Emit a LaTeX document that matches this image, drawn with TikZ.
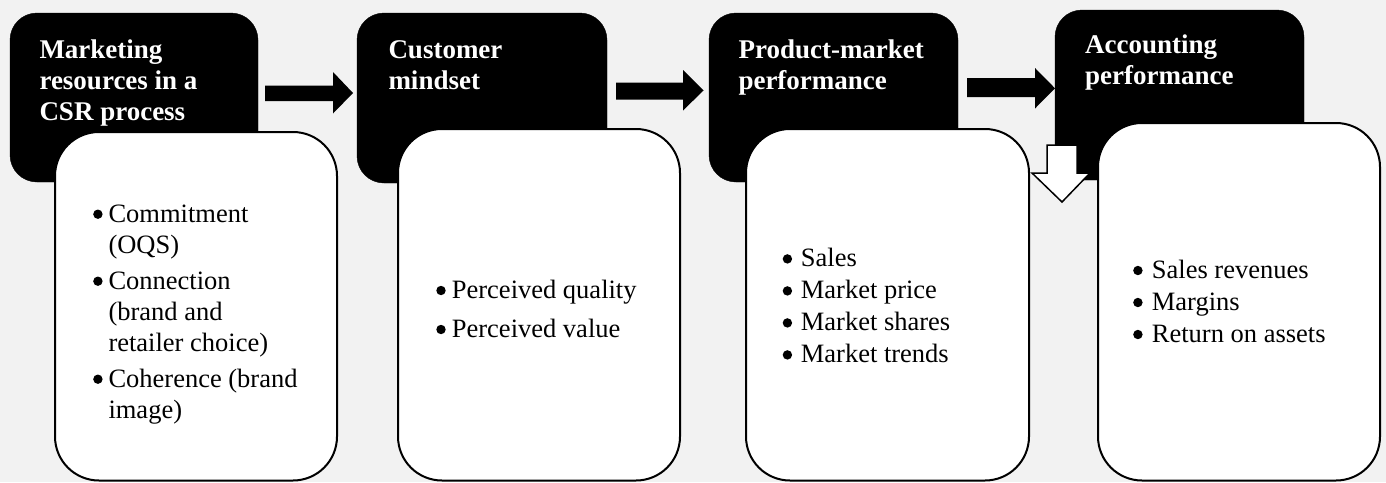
\documentclass[tikz,border=0pt]{standalone}
\usepackage{fontspec}
\setmainfont{Liberation Serif}
\usetikzlibrary{calc}
\definecolor{bggray}{HTML}{F2F2F2}
\newcommand\bul{\makebox[10pt][c]{\tikz[baseline=0pt]\fill[black] (0pt,8pt) circle[radius=4.7pt];}}
\tikzset{
  headbox/.style={rectangle, rounded corners=27pt, fill=black, draw=black, inner sep=0pt, outer sep=0pt},
  listbox/.style={rectangle, rounded corners=44pt, fill=white, draw=black, line width=2pt, inner sep=0pt, outer sep=0pt},
  headtext/.style={anchor=north west, inner sep=0pt, text=white, font=\fontsize{27}{31}\selectfont\bfseries},
  listtextA/.style={anchor=north west, inner sep=0pt, font=\fontsize{26.5}{31}\selectfont},
  listtextB/.style={anchor=north west, inner sep=0pt, font=\fontsize{26.5}{32}\selectfont},
  blockarrow/.style={fill=black},
  hollowarrow/.style={fill=white, draw=black, line width=1.5pt, line join=miter}
}
\begin{document}
\begin{tikzpicture}[x=1pt,y=-1pt]
\fill[bggray] (0,0) rectangle (1386,482);
\useasboundingbox (0,0) rectangle (1386,482);

% black heading boxes
\node[headbox, minimum width=248, minimum height=169] (b1) at (134,97.5) {};
\node[headbox, minimum width=250, minimum height=170] (b2) at (482,98) {};
\node[headbox, minimum width=249, minimum height=169] (b3) at (833.5,97.5) {};
\node[headbox, minimum width=249, minimum height=170] (b4) at (1179.5,95) {};

% block arrows between heading boxes
\fill[blockarrow] (265,85.5) -- (333,85.5) -- (333,72) -- (353,93) -- (333,113.5) -- (333,101) -- (265,101) -- cycle;
\fill[blockarrow] (616,82.5) -- (683,82.5) -- (683,70) -- (703.5,90.5) -- (683,110.5) -- (683,99.5) -- (616,99.5) -- cycle;
\fill[blockarrow] (967,78) -- (1035,78) -- (1035,68) -- (1055,88.3) -- (1035,108.5) -- (1035,97) -- (967,97) -- cycle;

% hollow down arrow
\draw[hollowarrow] (1047,145) -- (1077,145) -- (1077,173) -- (1090,173) -- (1062,202) -- (1032,173) -- (1047,173) -- cycle;

% white list boxes
\node[listbox, minimum width=282, minimum height=348.5] (w1) at (196,306.25) {};
\node[listbox, minimum width=282, minimum height=351.5] (w2) at (539,304.75) {};
\node[listbox, minimum width=283, minimum height=351.5] (w3) at (887.5,304.75) {};
\node[listbox, minimum width=282, minimum height=357.5] (w4) at (1239,301.75) {};

% heading texts
\node[headtext] (t1) at (39.3,36.6) {\begin{tabular}{@{}l@{}}Marketing\\resources in a\\CSR process\end{tabular}};
\node[headtext] (t2) at (388.3,36.6) {\begin{tabular}{@{}l@{}}Customer\\mindset\end{tabular}};
\node[headtext] (t3) at (738.3,36.6) {\begin{tabular}{@{}l@{}}Product-market\\performance\end{tabular}};
\node[headtext] (t4) at (1085,31.6) {\begin{tabular}{@{}l@{}}Accounting\\performance\end{tabular}};

% list texts
\node[listtextA] (l1) at (92.7,200.3) {\begin{tabular}{@{}l@{\hspace{5.6pt}}l@{}}
\bul & Commitment\\
 & (OQS)\\[5pt]
\bul & Connection\\
 & (brand and\\
 & retailer choice)\\[5pt]
\bul & Coherence (brand\\
 & image)
\end{tabular}};
\node[listtextA] (l2) at (435.8,276.6) {\begin{tabular}{@{}l@{\hspace{5.9pt}}l@{}}
\bul & Perceived quality\\[8pt]
\bul & Perceived value
\end{tabular}};
\node[listtextB] (l3) at (782.2,244.3) {\begin{tabular}{@{}l@{\hspace{8.5pt}}l@{}}
\bul & Sales\\
\bul & Market price\\
\bul & Market shares\\
\bul & Market trends
\end{tabular}};
\node[listtextB] (l4) at (1132.7,255.9) {\begin{tabular}{@{}l@{\hspace{9pt}}l@{}}
\bul & Sales revenues\\
\bul & Margins\\
\bul & Return on assets
\end{tabular}};
\end{tikzpicture}
\end{document}
